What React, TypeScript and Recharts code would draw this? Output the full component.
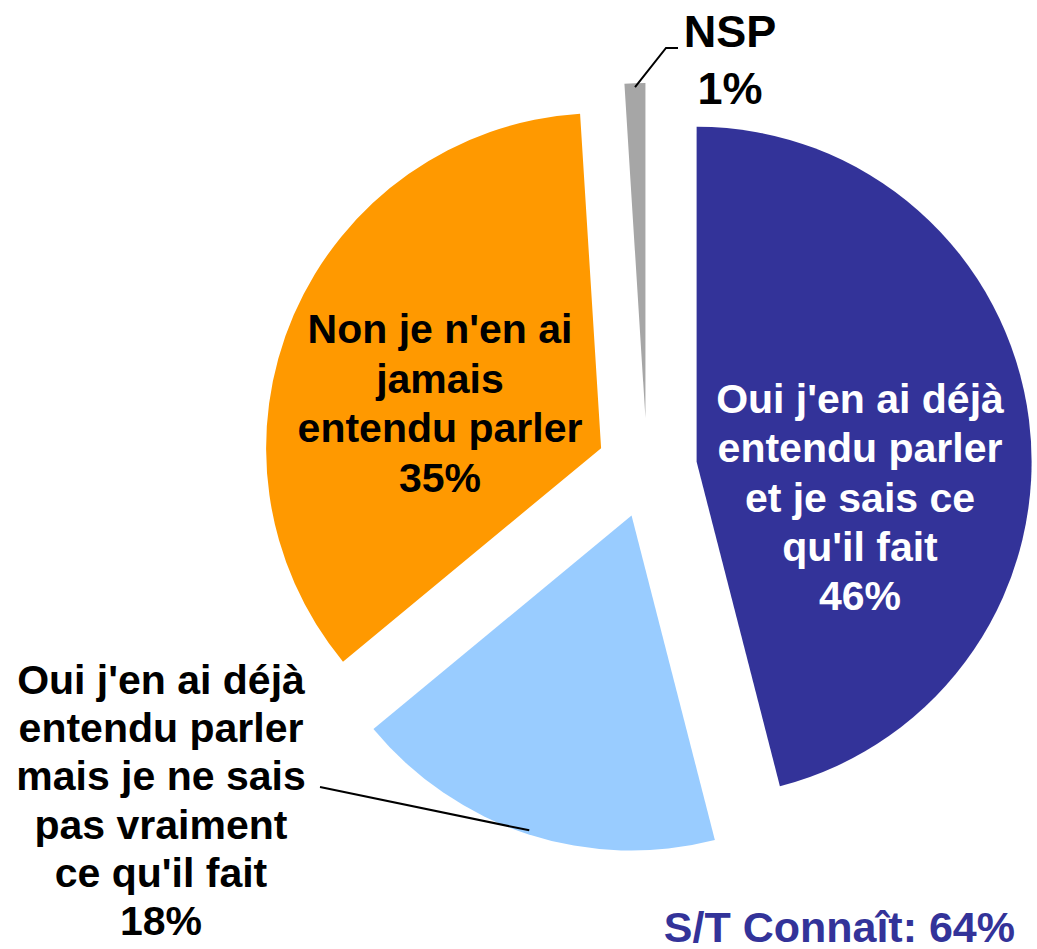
import React from 'react';
import { PieChart, Pie, Cell, Sector } from 'recharts';

const categories = [
  "Oui j'en ai déjà entendu parler et je sais ce qu'il fait",
  "Oui j'en ai déjà entendu parler mais je ne sais pas vraiment ce qu'il fait",
  "Non je n'en ai jamais entendu parler",
  'NSP',
];
const labelLines = [
  ["Oui j'en ai déjà", 'entendu parler', 'et je sais ce', "qu'il fait"],
  ["Oui j'en ai déjà", 'entendu parler', 'mais je ne sais', 'pas vraiment', "ce qu'il fait"],
  ["Non je n'en ai", 'jamais', 'entendu parler'],
  ['NSP'],
];
const values = [46, 18, 35, 1];
const colors = ['#333399', '#99CCFF', '#FF9900', '#A6A6A6'];
const summaryLabel = 'S/T Connaît: 64%';

const data = categories.map((name, i) => ({ name, value: values[i] }));

const FONT = '"Liberation Sans", Arial, Helvetica, sans-serif';
const CX = 647;
const CY = 468;
const RADIUS = 335;
const EXPLODE = 50;
const RAD = Math.PI / 180;

// text placement relative to the pie centre
const labelLayout = [
  { dx: 213, dy: -55, lh: 49.3, size: 41, color: '#ffffff' },
  { dx: -486, dy: 226, lh: 48.2, size: 41, color: '#000000', leader: [-327, 319] },
  { dx: -207, dy: -125, lh: 49.7, size: 41, color: '#000000' },
  { dx: 83, dy: -421, lh: 57, size: 45, color: '#000000', leader: [31, -420], elbow: [19, -420] },
];

const polar = (cx: number, cy: number, r: number, angle: number) => ({
  x: cx + r * Math.cos(-angle * RAD),
  y: cy + r * Math.sin(-angle * RAD),
});

const ExplodedSector = (props: any) => {
  const off = polar(0, 0, EXPLODE, props.midAngle);
  return <Sector {...props} cx={props.cx + off.x} cy={props.cy + off.y} />;
};

const renderLabel = (props: any) => {
  const { cx, cy, midAngle, outerRadius, index, value } = props;
  const lay = labelLayout[index];
  const lines = [...labelLines[index], `${value}%`];
  const x = cx + lay.dx;
  const y0 = cy + lay.dy;
  let leader = null;
  if (lay.leader) {
    const c = polar(cx, cy, EXPLODE, midAngle);
    const tip = polar(c.x, c.y, outerRadius - 4, midAngle);
    const pts = [[tip.x, tip.y]];
    if (lay.elbow) pts.push([cx + lay.elbow[0], cy + lay.elbow[1]]);
    pts.push([cx + lay.leader[0], cy + lay.leader[1]]);
    leader = (
      <polyline
        points={pts.map((p) => p.join(',')).join(' ')}
        fill="none"
        stroke="#000"
        strokeWidth={2}
      />
    );
  }
  return (
    <g key={`lbl-${index}`}>
      {leader}
      <text
        x={x}
        y={y0}
        textAnchor="middle"
        fill={lay.color}
        fontFamily={FONT}
        fontWeight="bold"
        fontSize={lay.size}
      >
        {lines.map((line, i) => (
          <tspan key={i} x={x} y={y0 + i * lay.lh}>
            {line}
          </tspan>
        ))}
      </text>
    </g>
  );
};

export default function App() {
  return (
    <div style={{ position: 'absolute', left: 0, top: 0, width: 1037, height: 949, background: '#fff' }}>
      <PieChart width={1037} height={949} margin={{ top: 0, right: 0, bottom: 0, left: 0 }}>
        <Pie
          data={data}
          dataKey="value"
          nameKey="name"
          cx={CX}
          cy={CY}
          outerRadius={RADIUS}
          startAngle={90}
          endAngle={-270}
          stroke="none"
          shape={ExplodedSector}
          label={renderLabel}
          labelLine={false}
          isAnimationActive={false}
        >
          {data.map((d, i) => (
            <Cell key={d.name} fill={colors[i]} />
          ))}
        </Pie>
      </PieChart>
      <div
        style={{
          position: 'absolute',
          left: 0,
          top: 906,
          width: 1015,
          textAlign: 'right',
          fontFamily: FONT,
          fontWeight: 'bold',
          fontSize: 43,
          lineHeight: 1,
          color: '#333399',
        }}
      >
        {summaryLabel}
      </div>
    </div>
  );
}
